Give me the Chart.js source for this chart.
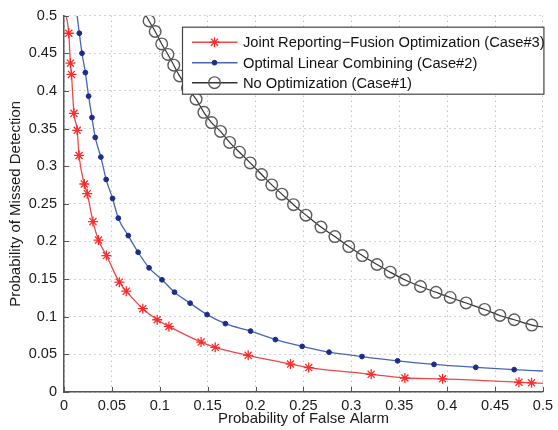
<!DOCTYPE html>
<html>
<head>
<meta charset="utf-8">
<script src="https://cdn.jsdelivr.net/npm/chart.js@4/dist/chart.umd.min.js"></script>
<style>
html,body{margin:0;padding:0;background:#fff;}
#wrap{width:558px;height:430px;position:relative;}
</style>
</head>
<body>
<div id="wrap"><canvas id="c" width="558" height="430"></canvas></div>
<script>
// ---- Data ----
// Case#3: Joint Reporting-Fusion Optimization (first and last points are line-only)
const case3FA = [0.0023,0.0050,0.0067,0.0078,0.0104,0.0138,0.0157,0.0212,0.0243,0.0302,0.0360,0.0443,0.0578,0.0650,0.0823,0.0973,0.1095,0.1431,0.1579,0.1923,0.2365,0.2555,0.3207,0.3559,0.3952,0.4750,0.4881,0.5000];
const case3MD = [0.5000,0.4767,0.4369,0.4220,0.3703,0.3477,0.3143,0.2764,0.2635,0.2264,0.2019,0.1813,0.1459,0.1340,0.1107,0.0960,0.0871,0.0663,0.0593,0.0487,0.0371,0.0324,0.0235,0.0186,0.0175,0.0129,0.0122,0.0115];
// Case#2: Optimal Linear Combining
const case2FA = [0.0137,0.0160,0.0188,0.0223,0.0257,0.0292,0.0326,0.0385,0.0440,0.0507,0.0567,0.0671,0.0774,0.0888,0.1023,0.1154,0.1317,0.1494,0.1685,0.1948,0.2207,0.2487,0.2767,0.3111,0.3483,0.3863,0.4299,0.4700,0.5000];
const case2MD = [0.5000,0.4767,0.4501,0.4244,0.3931,0.3647,0.3382,0.3122,0.2824,0.2572,0.2310,0.2078,0.1857,0.1650,0.1491,0.1326,0.1180,0.1028,0.0908,0.0809,0.0696,0.0606,0.0529,0.0471,0.0414,0.0367,0.0328,0.0297,0.0279];
// Case#1: No Optimization
const case1FA = [0.0857,0.0888,0.0952,0.1020,0.1085,0.1146,0.1206,0.1289,0.1379,0.1460,0.1540,0.1634,0.1729,0.1832,0.1944,0.2063,0.2169,0.2275,0.2396,0.2526,0.2683,0.2828,0.2973,0.3114,0.3268,0.3406,0.3556,0.3722,0.3884,0.4032,0.4198,0.4391,0.4550,0.4700,0.4884,0.5000];
const case1MD = [0.5000,0.4930,0.4790,0.4625,0.4485,0.4342,0.4200,0.4041,0.3891,0.3716,0.3580,0.3462,0.3316,0.3186,0.3044,0.2890,0.2752,0.2629,0.2489,0.2350,0.2191,0.2065,0.1932,0.1813,0.1694,0.1592,0.1491,0.1402,0.1325,0.1256,0.1183,0.1097,0.1017,0.0960,0.0889,0.0862];

const seriesLabels = ['Joint Reporting\u2212Fusion Optimization (Case#3)','Optimal Linear Combining (Case#2)','No Optimization (Case#1)'];
const xTickValues = [0,0.05,0.1,0.15,0.2,0.25,0.3,0.35,0.4,0.45,0.5];
const xTickLabels = ['0','0.05','0.1','0.15','0.2','0.25','0.3','0.35','0.4','0.45','0.5'];
const yTickValues = [0,0.05,0.1,0.15,0.2,0.25,0.3,0.35,0.4,0.45,0.5];
const yTickLabels = ['0','0.05','0.1','0.15','0.2','0.25','0.3','0.35','0.4','0.45','0.5'];
const xTitle = 'Probability of False Alarm';
const yTitle = 'Probability of Missed Detection';

// ---- Build chart ----
const FONT = "'Liberation Sans', Arial, Helvetica, sans-serif";
function pts(xs, ys){ return xs.map((x,i)=>({x:x, y:ys[i]})); }
function markerRadius(r){ return ctx => (ctx.dataIndex === 0 || ctx.dataIndex === ctx.dataset.data.length-1) ? 0 : r; }

const styles = [
  {line:'#ee4848', lw:1.3, style:'star', r:5, pb:'#ff2a2a', pf:'#ff2a2a', pbw:1.3},
  {line:'#4a64b4', lw:1.3, style:'circle', r:2.4, pb:'#1c2c8c', pf:'#1c2c8c', pbw:1},
  {line:'#333333', lw:1.2, style:'circle', r:5.8, pb:'#5a5a5a', pf:'rgba(0,0,0,0)', pbw:1.4}
];
const seriesData = [pts(case3FA,case3MD), pts(case2FA,case2MD), pts(case1FA,case1MD)];

const datasets = seriesData.map((d,i)=>({
  label: seriesLabels[i],
  data: d,
  showLine: true,
  borderColor: styles[i].line,
  borderWidth: styles[i].lw,
  cubicInterpolationMode: 'monotone',
  pointStyle: styles[i].style,
  pointRadius: markerRadius(styles[i].r),
  pointBorderColor: styles[i].pb,
  pointBackgroundColor: styles[i].pf,
  pointBorderWidth: styles[i].pbw,
  pointHoverRadius: 0,
  order: 3 - i
}));

function drawMarker(ctx, st, x, y){
  ctx.save();
  ctx.strokeStyle = st.pb; ctx.fillStyle = st.pf; ctx.lineWidth = st.pbw;
  Chart.helpers.drawPoint(ctx, {pointStyle: st.style, radius: st.r, rotation: 0, borderWidth: st.pbw}, x, y);
  ctx.restore();
}

const legendPlugin = {
  id: 'boxLegend',
  afterDraw(chart){
    const ctx = chart.ctx, a = chart.chartArea;
    const right = a.right + 1, left = 182.5, top = a.top + 11.5, bottom = a.top + 78.5;
    ctx.save();
    ctx.fillStyle = '#fff';
    ctx.fillRect(left, top, right-left, bottom-top);
    ctx.strokeStyle = '#444'; ctx.lineWidth = 1.2;
    ctx.strokeRect(left, top, right-left, bottom-top);
    const rows = [top+15, top+35.5, top+55.5];
    ctx.font = '14.7px ' + FONT;
    ctx.textBaseline = 'middle'; ctx.textAlign = 'left';
    chart.data.datasets.forEach((ds,i)=>{
      const st = styles[i], y = rows[i];
      ctx.strokeStyle = st.line; ctx.lineWidth = 1.6;
      ctx.beginPath(); ctx.moveTo(left+9.5, y); ctx.lineTo(left+55, y); ctx.stroke();
      drawMarker(ctx, st, left+32, y);
      ctx.fillStyle = '#111';
      ctx.fillText(ds.label, left+60.5, y+1);
    });
    ctx.restore();
  }
};

const tickMarkPlugin = {
  id: 'inTicks',
  afterDatasetsDraw(chart){
    const ctx = chart.ctx, a = chart.chartArea;
    const xs = chart.scales.x, ys = chart.scales.y;
    ctx.save();
    ctx.strokeStyle = '#555'; ctx.lineWidth = 1;
    ctx.beginPath();
    xTickValues.forEach(v=>{ const p = Math.round(xs.getPixelForValue(v))+0.5; ctx.moveTo(p, a.bottom); ctx.lineTo(p, a.bottom-5); });
    yTickValues.forEach(v=>{ const p = Math.round(ys.getPixelForValue(v))+0.5; ctx.moveTo(a.left, p); ctx.lineTo(a.left+5, p); });
    ctx.stroke();
    ctx.restore();
  }
};

new Chart(document.getElementById('c'), {
  type: 'scatter',
  data: { datasets: datasets },
  options: {
    responsive: false,
    animation: false,
    layout: { padding: {left: 0, top: 15, right: 11, bottom: 0} },
    plugins: { legend: {display: false}, tooltip: {enabled: false} },
    scales: {
      x: {
        type: 'linear', min: 0, max: 0.5,
        afterBuildTicks: s => { s.ticks = xTickValues.map(v=>({value:v})); },
        afterFit: s => { s.height = 38; },
        ticks: { callback: (v,i) => xTickLabels[i], font: {size: 14.5, family: FONT}, color: '#1a1a1a', padding: 5, maxRotation: 0, autoSkip: false },
        grid: { color: '#a8a8a8', lineWidth: 1, drawTicks: false },
        border: { display: true, color: '#555', width: 1.5, dash: [1,4] },
        title: { display: true, text: xTitle, font: {size: 15, family: FONT}, color: '#1a1a1a', padding: {top: 0, bottom: 2} }
      },
      y: {
        type: 'linear', min: 0, max: 0.5,
        afterBuildTicks: s => { s.ticks = yTickValues.map(v=>({value:v})); },
        afterFit: s => { s.width = 64; },
        ticks: { callback: (v,i) => yTickLabels[i], font: {size: 14.5, family: FONT}, color: '#1a1a1a', padding: 7, autoSkip: false },
        grid: { color: '#a8a8a8', lineWidth: 1, drawTicks: false },
        border: { display: true, color: '#555', width: 1.5, dash: [1,4] },
        title: { display: true, text: yTitle, font: {size: 15, family: FONT}, color: '#1a1a1a', padding: {top: 7, bottom: 0} }
      }
    }
  },
  plugins: [tickMarkPlugin, legendPlugin]
});
</script>
</body>
</html>
